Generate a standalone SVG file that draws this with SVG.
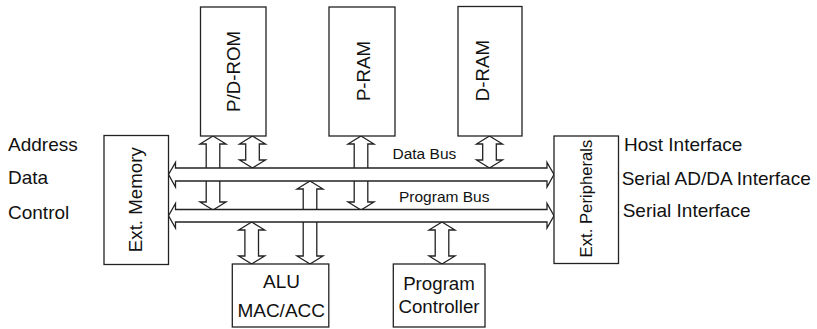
<svg xmlns="http://www.w3.org/2000/svg" width="817" height="329" viewBox="0 0 817 329">
<style>
  .box { fill: #ffffff; stroke: #222222; stroke-width: 1.3; }
  .arr { fill: #ffffff; stroke: #222222; stroke-width: 1.3; stroke-linejoin: miter; }
  .t { font-family: "Liberation Sans", Arial, sans-serif; font-size: 18.7px; fill: #111111; }
  .tc { text-anchor: middle; }
  .s { font-size: 15.5px; }
</style>
<rect width="817" height="329" fill="#ffffff"/>

<g id="connectors">
  <polygon class="arr" points="213,136 226,144 219.8,144 219.8,202 226,202 213,210 200,202 206.2,202 206.2,144 200,144"/>
  <polygon class="arr" points="252.5,136 265.5,144 259.3,144 259.3,160 265.5,160 252.5,168 239.5,160 245.7,160 245.7,144 239.5,144"/>
  <polygon class="arr" points="361,136 374,144 367.8,144 367.8,202 374,202 361,210 348,202 354.2,202 354.2,144 348,144"/>
  <polygon class="arr" points="489.5,136 502.5,144 496.3,144 496.3,160 502.5,160 489.5,168 476.5,160 482.7,160 482.7,144 476.5,144"/>
  <polygon class="arr" points="310,181 323,189 316.8,189 316.8,256 323,256 310,264 297,256 303.2,256 303.2,189 297,189"/>
  <polygon class="arr" points="251.7,222 264.7,230 258.5,230 258.5,256 264.7,256 251.7,264 238.7,256 244.9,256 244.9,230 238.7,230"/>
  <polygon class="arr" points="442,222 455,230 448.8,230 448.8,256 455,256 442,264 429,256 435.2,256 435.2,230 429,230"/>
  <!-- Data Bus -->
  <polygon class="arr" points="168.5,174.5 175.5,162.5 175.5,168 547,168 547,162.5 554,174.5 547,187 547,181 175.5,181 175.5,187"/>
  <!-- Program Bus -->
  <polygon class="arr" points="168.5,215.75 175.5,203.5 175.5,209.5 547,209.5 547,203.5 554,215.75 547,228 547,222 175.5,222 175.5,228"/>
  <text class="t s" x="392.5" y="159">Data Bus</text>
  <text class="t s" x="399" y="201.5">Program Bus</text>
</g>

<g id="pdrom">
  <rect class="box" x="200.5" y="7" width="65.5" height="129"/>
  <text class="t tc" transform="translate(240,71.5) rotate(-90)">P/D-ROM</text>
</g>
<g id="pram">
  <rect class="box" x="329" y="7" width="66" height="129"/>
  <text class="t tc" transform="translate(370,71) rotate(-90)">P-RAM</text>
</g>
<g id="dram">
  <rect class="box" x="458" y="6.5" width="64" height="129.5"/>
  <text class="t tc" transform="translate(489,70.5) rotate(-90)">D-RAM</text>
</g>
<g id="extmem">
  <rect class="box" x="104" y="135.5" width="64.5" height="129"/>
  <text class="t tc" transform="translate(141.5,199.7) rotate(-90)">Ext. Memory</text>
</g>
<g id="extper">
  <rect class="box" x="554" y="136" width="64.5" height="127.5"/>
  <text class="t tc" style="font-size:16.7px" transform="translate(591.5,198.5) rotate(-90)">Ext. Peripherals</text>
</g>
<g id="alu">
  <rect class="box" x="232.3" y="264" width="96.5" height="63"/>
  <text class="t tc" style="font-size:19px" x="281.5" y="288.3">ALU</text>
  <text class="t tc" style="font-size:19px" x="281.2" y="316.7">MAC/ACC</text>
</g>
<g id="pc">
  <rect class="box" x="393.3" y="264" width="91.7" height="63"/>
  <text class="t tc" x="439" y="290">Program</text>
  <text class="t tc" x="439" y="313.3">Controller</text>
</g>

<g id="leftlabels">
  <text class="t" style="font-size:19px" x="8" y="151">Address</text>
  <text class="t" style="font-size:19px" x="8" y="184">Data</text>
  <text class="t" style="font-size:19px" x="8" y="219">Control</text>
</g>
<g id="rightlabels">
  <text class="t" style="font-size:19px" x="624" y="151">Host Interface</text>
  <text class="t" style="font-size:19px" x="621.7" y="184.5">Serial AD/DA Interface</text>
  <text class="t" style="font-size:19px" x="622.7" y="216.7">Serial Interface</text>
</g>
</svg>
